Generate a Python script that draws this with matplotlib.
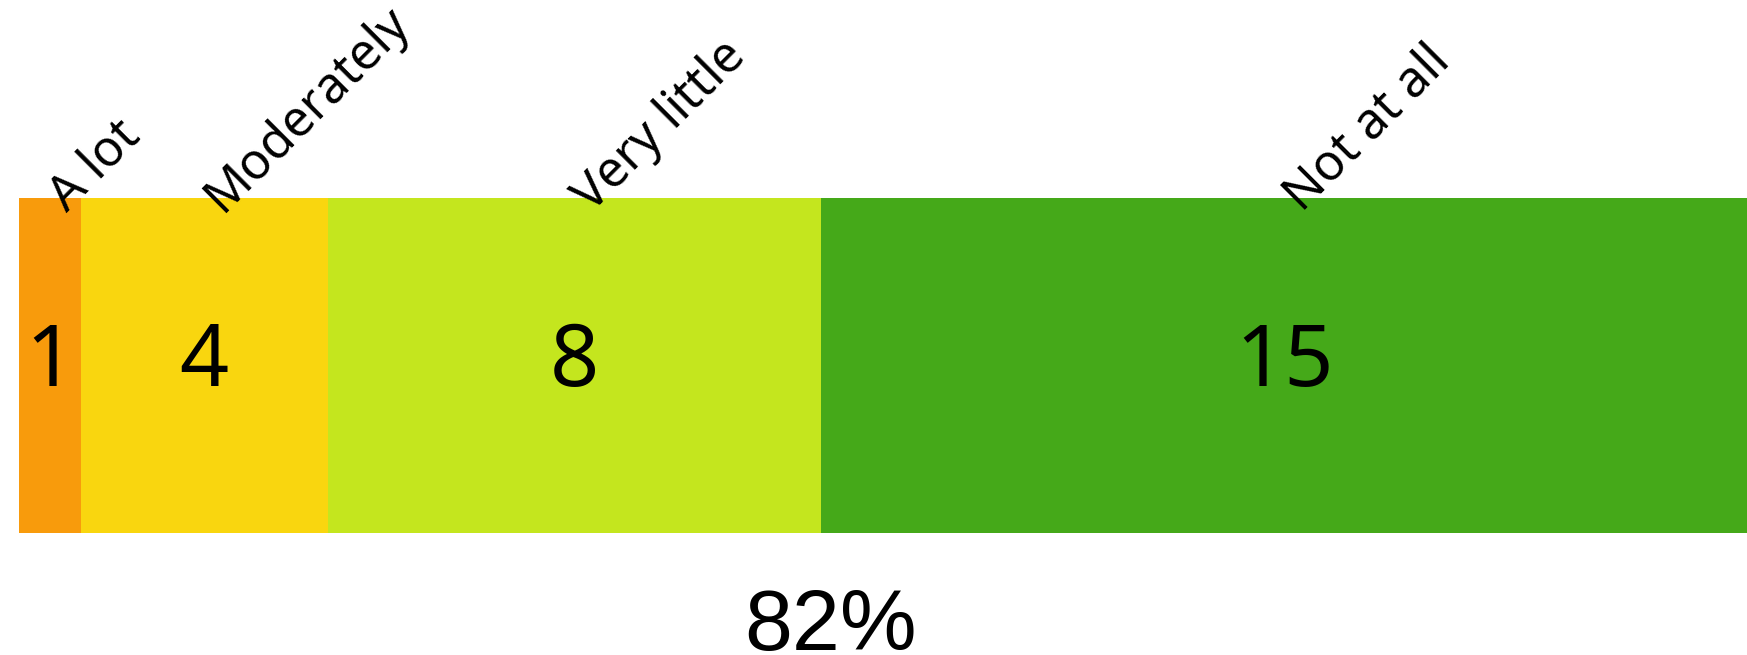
import matplotlib
matplotlib.use("Agg")
import matplotlib.pyplot as plt

# Response categories and counts
categories = ["A lot", "Moderately", "Very little", "Not at all"]
counts = [1, 4, 8, 15]
colors = ["#F89B0C", "#F9D60F", "#C4E61E", "#45A919"]

W, H = 1747, 655
fig = plt.figure(figsize=(W / 100, H / 100), dpi=100)
ax = fig.add_axes([0, 0, 1, 1])

total = sum(counts)
left = 0
for cat, n, col in zip(categories, counts, colors):
    ax.barh(0, n, left=left, height=1.0, color=col, edgecolor="none")
    cx = left + n / 2
    ax.text(cx, 0.005, str(n), ha="center", va="center", fontsize=62,
            family="Noto Sans", color="black")
    ax.text(cx + 0.28, 0.455, cat, rotation=45, rotation_mode="anchor",
            ha="left", va="baseline", fontsize=36, family="Noto Sans",
            color="black")
    left += n

# Pixel layout: bar spans x 19..1747, y 198..533 (from top)
px_per_unit = (1747 - 19) / total
ax.set_xlim(-19 / px_per_unit, (W - 19) / px_per_unit)
bar_h_px = 533 - 198
ax.set_ylim(-0.5 - (H - 533) / bar_h_px, 0.5 + 198 / bar_h_px)
ax.axis("off")

# Share of respondents answering "Very little" or "Not at all"
share = (counts[2] + counts[3]) / total
fig.text(831 / W, 5 / H, f"{share:.0%}", ha="center", va="baseline",
         fontsize=62, family="Liberation Sans", color="black")

fig.savefig("out.png", dpi=100, facecolor="white")
